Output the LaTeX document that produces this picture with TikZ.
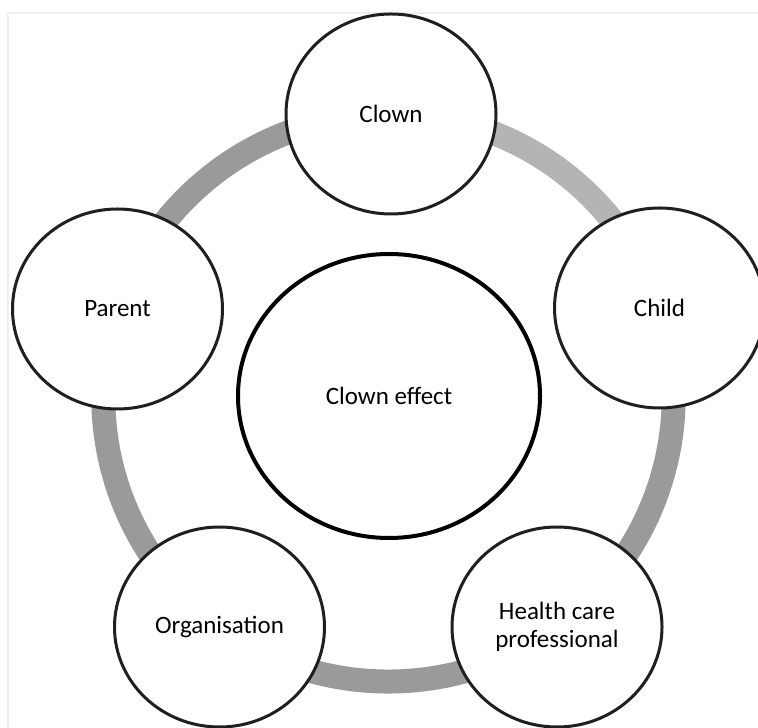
\documentclass[tikz,border=0pt]{standalone}
\usepackage{fontspec}
\setmainfont{Carlito}
\usetikzlibrary{shapes.geometric, backgrounds}
\definecolor{ringgray}{HTML}{9A9A9A}
\definecolor{ringlight}{HTML}{B4B4B4}

\begin{document}
\begin{tikzpicture}[x=0.5pt, y=0.5pt,
    party/.style={ellipse, draw=black!88, line width=1.5pt, fill=white, inner sep=0pt,
      minimum width=105pt, minimum height=100pt, align=center,
      font=\fontsize{12.5}{14}\selectfont},
    hub/.style={party, draw=black, line width=2pt, minimum width=151pt, minimum height=142pt},
    ring/.style={line width=12pt, draw=ringgray, bend left=36, looseness=0.94}]
    \useasboundingbox (0,0) rectangle (758,727);
    \draw[black!6, line width=1pt] (8,-20) |- (780,714);
    % centre and the five parties
    \node[hub] (effect) at (389,331) {Clown effect};
    \node[party] (clown) at (391,613) {Clown};
    \node[party] (child) at (659.5,419) {Child};
    \node[party] (hcp) at (557,100) {Health care\\professional};
    \node[party] (org) at (219.5,100) {Organisation};
    \node[party] (parent) at (117.5,418) {Parent};
    \begin{scope}[on background layer]
        \draw
        (clown.center) edge[ring, draw=ringlight] (child.center)
        (child.center) edge[ring] (hcp.center)
        (hcp.center) edge[ring] (org.center)
        (org.center) edge[ring] (parent.center)
        (parent.center) edge[ring] (clown.center);
    \end{scope}
\end{tikzpicture}
\end{document}
